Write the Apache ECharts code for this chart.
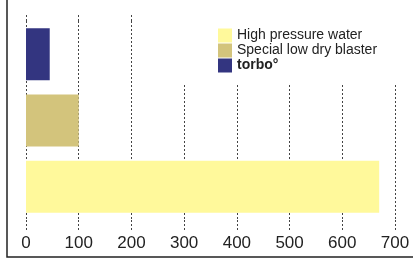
<!DOCTYPE html>
<html>
<head>
<meta charset="utf-8">
<script src="https://cdn.jsdelivr.net/npm/echarts@6/dist/echarts.min.js"></script>
<style>
  html, body { margin: 0; padding: 0; background: #fff; }
  #chart { width: 413px; height: 271px; }
</style>
</head>
<body>
<div id="chart"></div>
<script>
  // bottom to top
  const categories = ['High pressure water', 'Special low dry blaster', 'torbo°'];
  const values = [670, 100, 45];
  const colors = ['#FFF99B', '#D3C47C', '#333580'];
  const xTicks = [0, 100, 200, 300, 400, 500, 600, 700];

  const chart = echarts.init(document.getElementById('chart'));

  const gridLine = { color: '#444', width: 1, type: [2, 2] };

  const series = categories.map((name, i) => ({
    name: name,
    type: 'bar',
    stack: 'all',
    barWidth: 52,
    itemStyle: { color: colors[i] },
    data: values.map((v, j) => (j === i ? v : null)),
  }));

  chart.setOption({
    animation: false,
    backgroundColor: '#fff',
    grid: { left: 26, right: 18, top: 21, bottom: 51 },
    legend: {
      orient: 'vertical',
      left: 213,
      top: 23,
      z: 10,
      itemWidth: 14,
      itemHeight: 14,
      itemGap: 0,
      icon: 'rect',
      textStyle: { fontFamily: 'Liberation Sans', fontSize: 14, lineHeight: 15, color: '#222' },
      data: [
        { name: categories[0] },
        { name: categories[1] },
        { name: categories[2], textStyle: { fontWeight: 'bold' } },
      ],
    },
    graphic: [
      {
        type: 'rect', z: 5, silent: true,
        shape: { x: 150, y: 0, width: 270, height: 83 },
        style: { fill: '#fff' },
      },
      {
        type: 'rect', z: 20, silent: true,
        shape: { x: 7, y: -10, width: 430, height: 267 },
        style: { fill: 'none', stroke: '#222', lineWidth: 1.5 },
      },
    ],
    xAxis: [
      {
        type: 'value',
        min: xTicks[0],
        max: xTicks[xTicks.length - 1],
        interval: 100,
        axisLine: { show: false },
        axisTick: { show: true, length: 10, lineStyle: gridLine },
        axisLabel: { fontFamily: 'Liberation Sans', fontSize: 17, color: '#222', margin: 15 },
        splitLine: { show: true, lineStyle: gridLine },
      },
      {
        type: 'value',
        position: 'top',
        min: xTicks[0],
        max: xTicks[xTicks.length - 1],
        interval: 100,
        axisLine: { show: false },
        axisTick: { show: true, length: 8, lineStyle: gridLine },
        axisLabel: { show: false },
        splitLine: { show: false },
      },
    ],
    yAxis: {
      type: 'category',
      data: categories,
      axisLine: { show: false },
      axisTick: { show: false },
      axisLabel: { show: false },
    },
    series: series,
  });
</script>
</body>
</html>
